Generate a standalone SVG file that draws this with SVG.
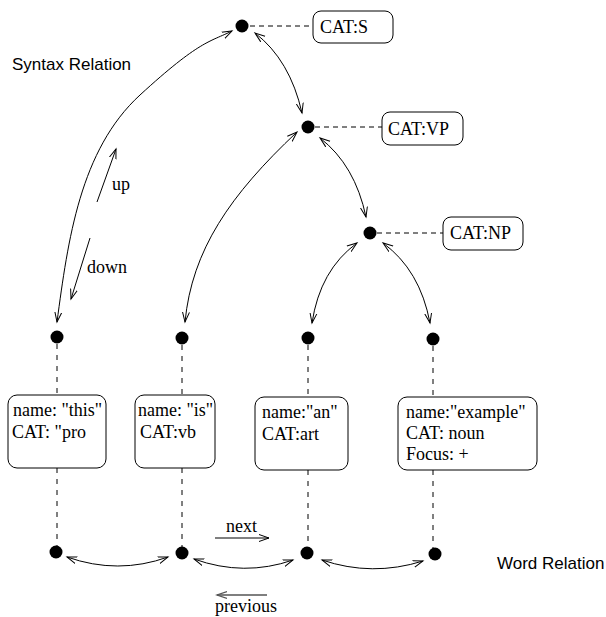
<svg xmlns="http://www.w3.org/2000/svg" width="606" height="617" viewBox="0 0 606 617">
<defs>
<marker id="ah" markerUnits="userSpaceOnUse" markerWidth="12" markerHeight="10" refX="10" refY="3.5" orient="auto-start-reverse" viewBox="0 0 12 7">
<path d="M0,0 L10,3.5 L0,7" fill="none" stroke="#000" stroke-width="1"/>
</marker>
<marker id="ahg" markerUnits="userSpaceOnUse" markerWidth="12" markerHeight="10" refX="10" refY="3.5" orient="auto-start-reverse" viewBox="0 0 12 7">
<path d="M0,0 L10,3.5 L0,7" fill="none" stroke="#555" stroke-width="1.3"/>
</marker>
<style>
.dot{fill:#000}
.box{fill:#fff;stroke:#000;stroke-width:1}
.dash{stroke:#000;stroke-width:1;stroke-dasharray:5 4;fill:none}
.vdash{stroke:#000;stroke-width:1;stroke-dasharray:5 6;fill:none}
.arc{fill:none;stroke:#000;stroke-width:1;marker-start:url(#ah);marker-end:url(#ah)}
.one{fill:none;stroke:#000;stroke-width:1;marker-end:url(#ah)}
.t{font-family:"Liberation Serif","Times New Roman",serif;font-size:18px;fill:#000}
.s{font-family:"Liberation Sans",Arial,sans-serif;font-size:17px;fill:#000}
</style>
</defs>
<g id="connectors">
<path class="dash" d="M250,26 H313"/>
<path class="dash" d="M315,127 H382"/>
<path class="dash" d="M377,233 H443"/>
<path class="vdash" d="M57,344 V395 M57,468 V546"/>
<path class="vdash" d="M182,345 V395 M182,468 V547"/>
<path class="vdash" d="M308,345 V397 M308,470 V547"/>
<path class="vdash" d="M433,346 V397 M433,470 V548"/>
<path class="arc" d="M57,322 C68,240 80,150 140,95 S210,42 232,31"/>
<path class="arc" d="M255,33 Q290,60 302,113"/>
<path class="arc" d="M185,322 C192,250 230,195 297,132"/>
<path class="arc" d="M320,138 Q355,165 366,217"/>
<path class="arc" d="M312,323 Q320,270 357,243"/>
<path class="arc" d="M383,243 Q420,270 430,323"/>
<path class="arc" d="M67,557 Q118,575 168,557"/>
<path class="arc" d="M194,559 Q244,577 293,560"/>
<path class="arc" d="M322,560 Q372,577 423,561"/>
<path class="one" d="M97,202 L116,149"/>
<path class="one" d="M90,238 L71,299"/>
<path class="one" d="M215,538 L269,538"/>
<path d="M267,595 L217,595" fill="none" stroke="#555" stroke-width="1.5" marker-end="url(#ahg)"/>
</g>
<g id="S"><circle class="dot" cx="242" cy="26" r="6.5"/></g>
<g id="catS"><rect class="box" x="313" y="11" width="80" height="32" rx="8"/><text class="t" x="320" y="33">CAT:S</text></g>
<g id="VP"><circle class="dot" cx="308" cy="127" r="6.5"/></g>
<g id="catVP"><rect class="box" x="382" y="112" width="81" height="33" rx="8"/><text class="t" x="388" y="135">CAT:VP</text></g>
<g id="NP"><circle class="dot" cx="370" cy="233" r="6.5"/></g>
<g id="catNP"><rect class="box" x="443" y="217" width="80" height="33" rx="8"/><text class="t" x="450" y="239">CAT:NP</text></g>
<g id="w1"><circle class="dot" cx="57" cy="337" r="6.5"/></g>
<g id="w2"><circle class="dot" cx="182" cy="338" r="6.5"/></g>
<g id="w3"><circle class="dot" cx="308" cy="338" r="6.5"/></g>
<g id="w4"><circle class="dot" cx="433" cy="339" r="6.5"/></g>
<g id="box1"><rect class="box" x="8" y="395" width="98" height="73" rx="9"/><text class="t" x="13" y="416">name: "this"</text><text class="t" x="12" y="438">CAT: "pro</text></g>
<g id="box2"><rect class="box" x="135" y="395" width="80" height="73" rx="9"/><text class="t" x="138" y="416">name: "is"</text><text class="t" x="140" y="438">CAT:vb</text></g>
<g id="box3"><rect class="box" x="255" y="397" width="93" height="73" rx="9"/><text class="t" x="262" y="418">name:"an"</text><text class="t" x="262" y="440">CAT:art</text></g>
<g id="box4"><rect class="box" x="398" y="397" width="139" height="73" rx="9"/><text class="t" x="406" y="418">name:"example"</text><text class="t" x="406" y="439">CAT: noun</text><text class="t" x="406" y="460">Focus: +</text></g>
<g id="b1"><circle class="dot" cx="56" cy="552" r="6.5"/></g>
<g id="b2"><circle class="dot" cx="182" cy="553" r="6.5"/></g>
<g id="b3"><circle class="dot" cx="307" cy="553" r="6.5"/></g>
<g id="b4"><circle class="dot" cx="435" cy="554" r="6.5"/></g>
<g id="labels">
<text class="s" x="12" y="70">Syntax Relation</text>
<text class="s" x="497" y="569">Word Relation</text>
<text class="t" x="112" y="190">up</text>
<text class="t" x="87" y="273">down</text>
<text class="t" x="226" y="532">next</text>
<text class="t" x="215" y="612">previous</text>
</g>
</svg>
